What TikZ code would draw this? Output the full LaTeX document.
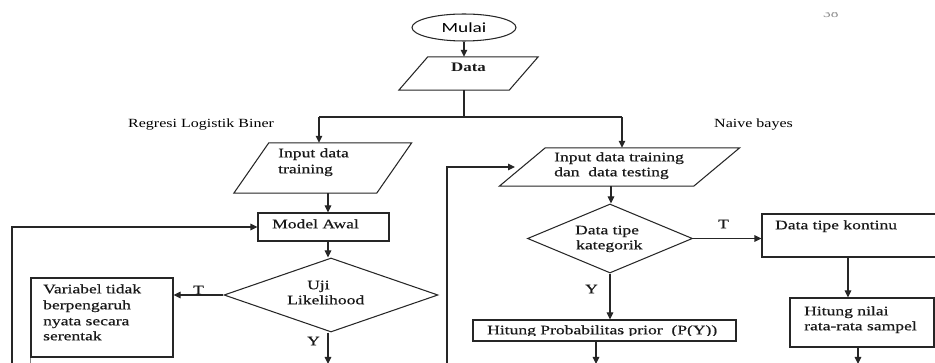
\documentclass[tikz,border=0pt]{standalone}
\usepackage{fontspec}
\setmainfont{Liberation Serif}
\newfontfamily\boxfont[FakeStretch=1.35,FakeBold=0.5]{Liberation Serif}
\newfontfamily\datafont[FakeStretch=1.3]{Liberation Serif}
\newfontfamily\lblfont[FakeStretch=1.28]{Liberation Serif}
\newfontfamily\mulaifont[FakeStretch=1.38]{Carlito}
\usetikzlibrary{shapes.geometric,arrows.meta}
\newcommand\paral[2]{\draw[ln] ([xshift=#2]#1.north west) -- ([xshift=#2]#1.north east) -- ([xshift=-#2]#1.south east) -- ([xshift=-#2]#1.south west) -- cycle;}
\begin{document}
\begin{tikzpicture}[x=1pt,y=-1pt,
  ln/.style={draw=black!85,line width=1.05pt},
  arr/.style={ln,-{Triangle[length=7pt,width=6.5pt]}},
  blk/.style={ln,rectangle,inner sep=0pt},
  ghost/.style={rectangle,inner sep=0pt},
  dia/.style={ln,diamond,inner sep=0pt},
  bt/.style={anchor=mid west,inner sep=0pt,text=black!90,font=\boxfont\fontsize{13}{15}\selectfont},
  lt/.style={anchor=mid west,inner sep=0pt,font=\lblfont\fontsize{12.5}{15}\selectfont}]
\clip (0,0) rectangle (935,363);
\fill[white] (0,0) rectangle (935,363);

% page number (cut)
\begin{scope}
\clip (800,12.5) rectangle (860,30);
\node[anchor=base west,inner sep=0pt,text=black!45,font=\lblfont\fontsize{12}{14}\selectfont] (pg) at (823,17.5) {38};
\end{scope}

% top
\node[ln,ellipse,minimum width=104pt,minimum height=27pt,inner sep=0pt] (mulai) at (464,27.5) {\mulaifont\fontsize{14}{16}\selectfont Mulai};
\node[ghost,minimum width=110pt,minimum height=33pt] (data) at (468.5,73.5) {};
\paral{data}{14.5pt}
\node[bt,font=\datafont\fontsize{13}{15}\selectfont\bfseries] (datat) at (451,69) {Data};
\draw[arr] (mulai.south) -- (mulai.south |- data.north);
\coordinate (jn) at (464,117);
\coordinate (jL) at (319,117);
\coordinate (jR) at (622,117);
\draw[ln] (jn |- data.south) -- (jn);
\draw[ln] (jL) -- (jR);

\node[lt] (rlb) at (128,125) {Regresi Logistik Biner};
\node[lt] (nbl) at (714,125) {Naive bayes};

% left branch
\coordinate (cL) at (328,0);
\node[ghost,minimum width=142.5pt,minimum height=50pt] (inpL) at (322.75,168) {};
\paral{inpL}{17.5pt}
\node[bt] (inpLa) at (278,155) {Input data};
\node[bt] (inpLb) at (278,171) {training};
\draw[arr] (jL) -- (jL |- inpL.north);

\node[blk,minimum width=131pt,minimum height=28pt] (model) at (323.5,227) {};
\node[bt] (modelt) at (272,226) {Model Awal};
\draw[arr] (cL |- inpL.south) -- (cL |- model.north);

\node[dia,minimum width=214pt,minimum height=74pt] (uji) at (331,295) {};
\node[bt] (ujia) at (307,287) {Uji};
\node[bt] (ujib) at (287,302) {Likelihood};
\draw[arr] (cL |- model.south) -- (cL |- uji.north);

\node[blk,minimum width=142pt,minimum height=79pt] (var) at (102,317.5) {};
\node[bt] (vara) at (43,291) {Variabel tidak};
\node[bt] (varb) at (43,307) {berpengaruh};
\node[bt] (varc) at (43,323) {nyata secara};
\node[bt] (vard) at (43,338) {serentak};
\draw[arr] (uji.west) -- (var.east |- uji.west);
\node[bt] (tL) at (193,292) {T};
\node[bt] (yL) at (307,343) {Y};
\coordinate (ujiEnd) at (328,364);
\draw[arr] (cL |- uji.south) -- (ujiEnd);
\draw[ln,draw=black!50] (var.south west) -- ++(0,8);

\coordinate (lb) at (12,370);
\draw[arr] (lb) |- (model.west);

% right branch
\node[ghost,minimum width=194pt,minimum height=38pt] (inpR) at (619.5,167) {};
\paral{inpR}{23pt}
\node[bt] (inpRa) at (554,159) {Input data training};
\node[bt] (inpRb) at (554,174) {dan\ \ data testing};
\draw[arr] (jR) -- (jR |- inpR.north);

\coordinate (rb) at (447,370);
\coordinate (rt) at (515,167);
\draw[arr] (rb) |- (rt);

\coordinate (cR) at (611,0);
\node[dia,minimum width=165pt,minimum height=69pt] (kat) at (610,238.5) {};
\node[bt] (kata) at (575,232) {Data tipe};
\node[bt] (katb) at (576,247) {kategorik};
\draw[arr] (cR |- inpR.south) -- (cR |- kat.north);

\node[blk,minimum width=198pt,minimum height=43pt] (kont) at (861,235.5) {};
\node[bt] (kontt) at (775,227) {Data tipe kontinu};
\draw[arr] (kat.east) -- (kat.east -| kont.west);
\node[bt] (tR) at (718,226) {T};

\coordinate (cK) at (848,0);
\node[blk,minimum width=144pt,minimum height=49pt] (hitN) at (862,322.5) {};
\node[bt] (hitNa) at (804,313) {Hitung nilai};
\node[bt] (hitNb) at (804,328) {rata-rata sampel};
\draw[arr] (cK |- kont.south) -- (cK |- hitN.north);
\coordinate (hitNEnd) at (858,364);
\draw[arr] (hitNEnd |- hitN.south) -- (hitNEnd);

\node[bt] (yR) at (585,291) {Y};
\node[blk,minimum width=263pt,minimum height=21pt] (hitP) at (604.5,330.5) {};
\draw[arr] (kat.south) -- (kat.south |- hitP.north);
\begin{scope}
\clip (480,320) rectangle (735,335.5);
\node[bt] (hitPt) at (487,332) {Hitung Probabilitas prior\ \ (P(Y))};
\end{scope}
\coordinate (hitPEnd) at (596,364);
\draw[arr] (hitPEnd |- hitP.south) -- (hitPEnd);
\end{tikzpicture}
\end{document}
